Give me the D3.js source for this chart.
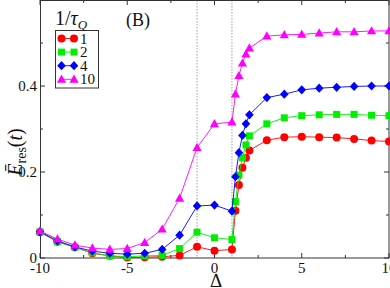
<!DOCTYPE html>
<html><head><meta charset="utf-8">
<script src="https://cdn.jsdelivr.net/npm/d3@7"></script>
<style>
html,body{margin:0;padding:0;background:#fff;}
svg{display:block;font-family:"Liberation Serif","DejaVu Serif",serif;}
</style></head>
<body><svg id="c" width="390" height="288"></svg>
<script>
const deltas = [-10,-9,-8,-7,-6,-5,-4,-3,-2,-1,0,1,1.2,1.4,1.6,1.8,2,3,4,5,6,7,8,9,10];
const tau1  = [0.060,0.038,0.025,0.011,0.005,0.001,0.002,0.003,0.006,0.026,0.017,0.020,0.110,0.170,0.210,0.233,0.250,0.274,0.281,0.282,0.281,0.280,0.277,0.273,0.271];
const tau2  = [0.061,0.038,0.025,0.012,0.005,0.003,0.005,0.006,0.022,0.060,0.047,0.043,0.131,0.193,0.233,0.263,0.284,0.312,0.326,0.331,0.333,0.334,0.334,0.332,0.331];
const tau4  = [0.061,0.040,0.026,0.016,0.011,0.009,0.011,0.020,0.053,0.121,0.123,0.109,0.189,0.245,0.285,0.312,0.333,0.373,0.381,0.391,0.395,0.397,0.399,0.400,0.400];
const tau10 = [0.063,0.044,0.030,0.023,0.020,0.022,0.036,0.067,0.139,0.257,0.312,0.316,0.381,0.424,0.453,0.474,0.488,0.516,0.519,0.520,0.523,0.526,0.526,0.528,0.528];
const seriesNames = ["1","2","4","10"];
const colors = ["#ff0000","#00ee00","#0000ff","#ff00ff"];
const markers = ["circle","square","diamond","triangle"];
const xTicks = [-10,-5,0,5,10];
const xMinor = [-7.5,-2.5,2.5,7.5];
const yTicks = [0,0.2,0.4];
const yMinor = [0.1,0.3,0.5];
const vLines = [-1,1];

const svg = d3.select("#c");
const L=40,R=389,T=0,B=258;
const x = d3.scaleLinear().domain([-10,10]).range([L,R]);
const y = d3.scaleLinear().domain([0,0.6]).range([B,T]);

// dotted vertical lines
svg.selectAll(".vl").data(vLines).enter().append("line")
  .attr("x1",d=>x(d)).attr("x2",d=>x(d)).attr("y1",T).attr("y2",B)
  .attr("stroke","#888").attr("stroke-width",0.8).attr("stroke-dasharray","1.5,1.5");

// frame
svg.append("rect").attr("x",L+0.5).attr("y",T+0.5).attr("width",R-L-0.5).attr("height",B-T-0.5)
  .attr("fill","none").attr("stroke","#333").attr("stroke-width",1);

// ticks (inward, all four sides)
const tk = svg.append("g").attr("stroke","#333").attr("stroke-width",1);
function xt(v,len){
  tk.append("line").attr("x1",x(v)).attr("x2",x(v)).attr("y1",B).attr("y2",B-len);
  tk.append("line").attr("x1",x(v)).attr("x2",x(v)).attr("y1",T).attr("y2",T+len);
}
function yt(v,len){
  tk.append("line").attr("y1",y(v)).attr("y2",y(v)).attr("x1",L).attr("x2",L+len);
  tk.append("line").attr("y1",y(v)).attr("y2",y(v)).attr("x1",R).attr("x2",R-len);
}
xTicks.forEach(v=>xt(v,5)); xMinor.forEach(v=>xt(v,3));
yTicks.forEach(v=>yt(v,5)); yMinor.forEach(v=>yt(v,3));

// tick labels
svg.selectAll(".xl").data(xTicks).enter().append("text")
  .attr("x",d=>x(d)).attr("y",273).attr("text-anchor","middle")
  .attr("font-size",15).attr("fill","#111").text(d=>d);
svg.selectAll(".yl").data(yTicks).enter().append("text")
  .attr("x",37).attr("y",d=>y(d)+5).attr("text-anchor","end")
  .attr("font-size",15).attr("fill","#111").text(d=>d===0?"0":d3.format(".1f")(d));

// axis titles
svg.append("text").attr("x",216).attr("y",287).attr("text-anchor","middle")
  .attr("font-size",19).attr("fill","#111").text("Δ");
const yt1 = svg.append("text").attr("transform","translate(22,152) rotate(-90)")
  .attr("text-anchor","middle").attr("font-size",20).attr("fill","#111");
yt1.append("tspan").attr("font-style","italic").text("Ē");
yt1.append("tspan").attr("font-size",14).attr("dy",4).text("res");
yt1.append("tspan").attr("dy",-4).text("(");
yt1.append("tspan").attr("font-style","italic").text("t");
yt1.append("tspan").text(")");

// panel label
svg.append("text").attr("x",126).attr("y",26).attr("font-size",18).attr("fill","#111").text("(B)");

// markers
function markerPath(type){
  if(type==="circle") return d3.symbol(d3.symbolCircle,50)();
  if(type==="square") return "M-3.5,-3.5H3.5V3.5H-3.5Z";
  if(type==="diamond") return "M0,-4.6L4.3,0L0,4.6L-4.3,0Z";
  return "M0,-4.8L4.6,3.4H-4.6Z";
}
const allSeries = [tau1,tau2,tau4,tau10];
const line = d3.line().x((d,i)=>x(deltas[i])).y(d=>y(d));
allSeries.forEach((vals,k)=>{
  const g = svg.append("g");
  g.append("path").datum(vals).attr("d",line).attr("fill","none")
    .attr("stroke",colors[k]).attr("stroke-width",0.9);
  g.selectAll("path.m").data(vals).enter().append("path").attr("class","m")
    .attr("transform",(d,i)=>`translate(${x(deltas[i])},${y(d)})`)
    .attr("d",markerPath(markers[k])).attr("fill",colors[k]);
});

// legend
svg.append("rect").attr("x",55.5).attr("y",30.5).attr("width",43).attr("height",57.5)
  .attr("fill","#fff").attr("stroke","#333").attr("stroke-width",1);
const lt = svg.append("text").attr("x",55).attr("y",25).attr("font-size",20).attr("fill","#111");
lt.append("tspan").text("1/");
lt.append("tspan").attr("font-style","italic").text("τ");
lt.append("tspan").attr("font-style","italic").attr("font-size",13).attr("dy",4).text("Q");
seriesNames.forEach((n,k)=>{
  const yy = 38.5 + k*13.6;
  svg.append("line").attr("x1",61.5).attr("x2",74).attr("y1",yy).attr("y2",yy)
    .attr("stroke",colors[k]).attr("stroke-width",0.9);
  [61.5,74].forEach(xx=>svg.append("path").attr("transform",`translate(${xx},${yy})`)
    .attr("d",markerPath(markers[k])).attr("fill",colors[k]));
  svg.append("text").attr("x",80).attr("y",yy+5).attr("font-size",15).attr("fill","#111").text(n);
});
</script></body></html>
